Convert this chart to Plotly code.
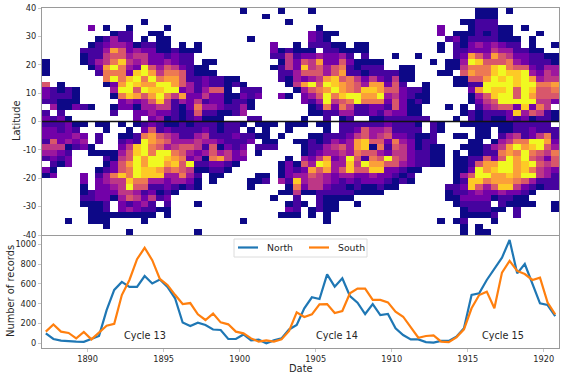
import plotly.graph_objects as go
from plotly.subplots import make_subplots

# half-year bins, 1887-1921
years = [1887.25 + 0.5 * i for i in range(68)]
# 2 degree bins from +40 down to -40
lats = [39 - 2 * i for i in range(40)]

# butterfly diagram, one string per latitude row, '.' = no records, 0-9 = colour level
rows = [
    ".......... .......... ......0... .0...0.... .......... .......000 .0......",
    ".......... .......... .........0 .......... .......... .......000 ........",
    ".......... ...0...... .......... ..0....... .......... .....00111 ........",
    "......2.0. .0....0... .......... ......0... .......... ..2...0111 00.0....",
    ".........0 11..00.... .......... .....2100. .......... ..2.000101 00...0..",
    ".......013 11.0.00... .......0.. .....210.. .......... ...1201111 000.0...",
    "......0123 3201100.0. 0......... 2..0.11100 .00....... ..0.102323 211.0..0",
    ".....11137 5232200100 0......... 201000.110 000....... ..0.112224 331100..",
    ".....01145 5344221211 .......... 1141223223 1.1...0..0 ....127537 54221100",
    "0....01346 8434223211 .00....... .042547225 20000..... .0.0039855 56321110",
    "0.....0279 6329535421 00........ 0142845356 10111..00. ...0046668 96552133",
    "0......166 6289746651 000....... .113555357 110111100. ..00.57668 98893243",
    "........69 6896967751 121100.... .103234785 642421400. ....005579 89897344",
    "5.0.....02 7987799753 1211010... ..04795987 65377251.. 0...001199 99899667",
    "21010....3 9959889923 13550.111. ...0356797 6588755211 0.....2798 89598556",
    "21110....0 6875796472 242200212. .20.235968 9977934210 0.....0358 99597555",
    "11000..... 2323584132 41220110.. ....213945 6966625201 0.....0245 99999442",
    ".300210..0 2203344102 63321130.. .....01626 4112215200 ...0.0.134 5528264.",
    "1.1......1 ..22322101 5110013... .....00113 3112132200 .....01011 12835410",
    "2120...... ..2.230101 2000...11. ....0..1.0 1..0011111 1...0.1010 02120110",
    "111200.00. 0.01210010 1110110.00 0.000.00.1 1111121110 .10..00000 0011111.",
    "22121...0. .0.2512111 121011.0.0 ..0....0.1 1253341111 .10....00. 00112111",
    "222232.1.. 0016754311 3411121100 .0...00111 2453452210 01..00.00. 13412461",
    "152323.1.. 1219765333 43321112.0 0..0010132 3785526320 11....00.0 34669972",
    "4440120... 2489653455 4150212.11 1...011345 3780615420 100..00013 47978953",
    "3321..0000 3589699653 2353423.0. ....012334 3655324421 100.0.0011 67696546",
    "1212....10 4597998762 3067422... ..0.324723 9516595421 100.001152 59795425",
    ".102....02 5797997859 112210.... .020539833 8497755321 100.001577 99789545",
    "20.....012 5698875654 00110..... .021275735 8558822100 ....002978 99786432",
    "02...2.136 8698883363 1.00....00 .023354323 322322101. ....035997 78799431",
    ".....2.234 4866332332 0.0....001 .318344321 212221010. ....018867 77653111",
    ".....0.223 4955112101 0......0.. ..06244211 0100100... ...1128535 88421011",
    ".....01222 44312010.. .......... .004001111 10000..... ...0112322 32210...",
    ".....11220 3542412... .......... 0..1..1000 0......... ...0022220 1100....",
    ".....0001. 21231.1... 0......... ..010.100. .0........ ....01111. 10000..0",
    "......001. 2321100... .......... ..21.0100. .......... .....01110 0.1....0",
    "......0000 00000.0... .......... .000.0.0.. .......... .....00001 ..1.....",
    "...0..000. ...0...... ......0... .......0.. .......... ..0.01...0 ........",
    "........0. .......... .......... .......... .......... .....0.0.. ........",
    ".......... .0........ 0......... .......... .......... .....0.00. ........",
]

north = [101, 44, 27, 20, 17, 15, 44, 75, 335, 540, 620, 570, 570, 680, 605, 645, 570,
         455, 210, 175, 208, 185, 140, 135, 44, 44, 90, 30, 37, 0, 30, 50, 140, 185, 353,
         465, 448, 697, 572, 657, 478, 410, 296, 397, 286, 296, 152, 84, 40, 40, 13, 7,
         24, 24, 67, 152, 488, 505, 640, 747, 865, 1044, 707, 801, 606, 404, 387, 276]
south = [118, 190, 118, 105, 50, 115, 40, 108, 178, 198, 488, 640, 850, 965, 840, 650, 590,
         490, 397, 407, 293, 236, 300, 212, 192, 118, 101, 50, 17, 30, 17, 40, 125, 313, 266,
         293, 394, 397, 306, 327, 505, 552, 552, 438, 438, 414, 320, 269, 162, 57, 74, 81,
         17, 13, 61, 141, 354, 488, 522, 354, 714, 832, 731, 700, 640, 663, 411, 293]

cycle_names = ["Cycle 13", "Cycle 14", "Cycle 15"]
cycle_years = [1893.8, 1906.4, 1917.3]
cycle_y = 84

lat_ticks = [40, 30, 20, 10, 0, -10, -20, -30, -40]
lat_labels = ["40", "30", "20", "10", "0", "-10", "-20", "-30", "-40"]
year_ticks = [1890, 1895, 1900, 1905, 1910, 1915, 1920]
count_ticks = [0, 200, 400, 600, 800, 1000]

z = []
for row in rows:
    cells = row.replace(" ", "")
    assert len(cells) == 68, row
    z.append([None if c == "." else int(c) for c in cells])

W, H = 565, 377
FONT = "DejaVu Sans"
TXT = "#262626"
BLUE, ORANGE = "#1f77b4", "#ff7f0e"

fig = make_subplots(rows=2, cols=1, shared_xaxes=False)

fig.add_trace(go.Heatmap(x=years, y=lats, z=z, colorscale="Plasma", zmin=0, zmax=9,
                         showscale=False, hoverongaps=False), row=1, col=1)
fig.add_trace(go.Scatter(x=years, y=north, mode="lines", name="North",
                         line=dict(color=BLUE, width=2.2)), row=2, col=1)
fig.add_trace(go.Scatter(x=years, y=south, mode="lines", name="South",
                         line=dict(color=ORANGE, width=2.2)), row=2, col=1)

for name, yr in zip(cycle_names, cycle_years):
    fig.add_annotation(x=yr, y=cycle_y, text=name, showarrow=False, xref="x2", yref="y2",
                       font=dict(family=FONT, size=9.7, color=TXT))


def paper_text(px, py, text, size, angle=0, anchor="center"):
    fig.add_annotation(x=px / W, y=1 - py / H, text=text, textangle=angle, showarrow=False,
                       xref="paper", yref="paper", xanchor=anchor, yanchor="middle",
                       font=dict(family=FONT, size=size, color=TXT))


# axis titles as paper annotations, the margins are pinned
paper_text(17, 121, "Latitude", 9.9, -90)
paper_text(10, 291, "Number of records", 9.9, -90)
paper_text(300.7, 368, "Date", 9.9)

# legend box drawn by hand, the native one is too tall for this panel
fig.add_shape(type="rect", xref="paper", yref="paper", x0=234 / W, x1=367 / W,
              y0=1 - 257 / H, y1=1 - 239 / H, line=dict(color="#dcdcdc", width=1),
              fillcolor="rgba(255,255,255,0.8)", layer="above")
for x0, x1, col in [(238, 258, BLUE), (309, 329, ORANGE)]:
    fig.add_shape(type="line", xref="paper", yref="paper", x0=x0 / W, x1=x1 / W,
                  y0=1 - 247.5 / H, y1=1 - 247.5 / H, line=dict(color=col, width=2.2), layer="above")
paper_text(264.5, 247.5, "North", 9.3, anchor="left")
paper_text(336, 247.5, "South", 9.3, anchor="left")

# equator line
fig.add_shape(type="line", x0=1887, x1=1921, y0=0, y1=0, xref="x", yref="y",
              line=dict(color="#111111", width=1.6), layer="above")

axis_line = dict(showline=True, linecolor="#9a9a9a", linewidth=1.2, mirror=True,
                 showgrid=False, zeroline=False, automargin=False)
tick_font = dict(family=FONT, size=8.2, color=TXT)
tick_style = dict(ticks="outside", ticklen=3, tickwidth=1, tickcolor="#c8c8c8")

dom_x = [42 / W, 559 / W]
fig.update_xaxes(domain=dom_x, range=[1887, 1921], showticklabels=False, ticks="",
                 row=1, col=1, **axis_line)
fig.update_yaxes(domain=[1 - 235 / H, 1 - 8 / H], range=[-40, 40], tickvals=lat_ticks,
                 ticktext=lat_labels, tickfont=tick_font,
                 row=1, col=1, **tick_style, **axis_line)
fig.update_xaxes(domain=dom_x, range=[1887, 1921], tickvals=year_ticks,
                 tickfont=tick_font, row=2, col=1, **tick_style, **axis_line)
fig.update_yaxes(domain=[1 - 348.3 / H, 1 - 235.5 / H], range=[-50, 1089], tickvals=count_ticks,
                 tickfont=tick_font, row=2, col=1, **tick_style, **axis_line)

fig.update_layout(
    width=W, height=H,
    margin=dict(l=0, r=0, t=0, b=0, autoexpand=False),
    paper_bgcolor="white", plot_bgcolor="white",
    font=dict(family=FONT, color=TXT),
    showlegend=False,
)

# page body margin would push the figure 8px off
fig.write_html("out.html", config=dict(displayModeBar=False),
               post_script="document.body.style.margin = '0';")
